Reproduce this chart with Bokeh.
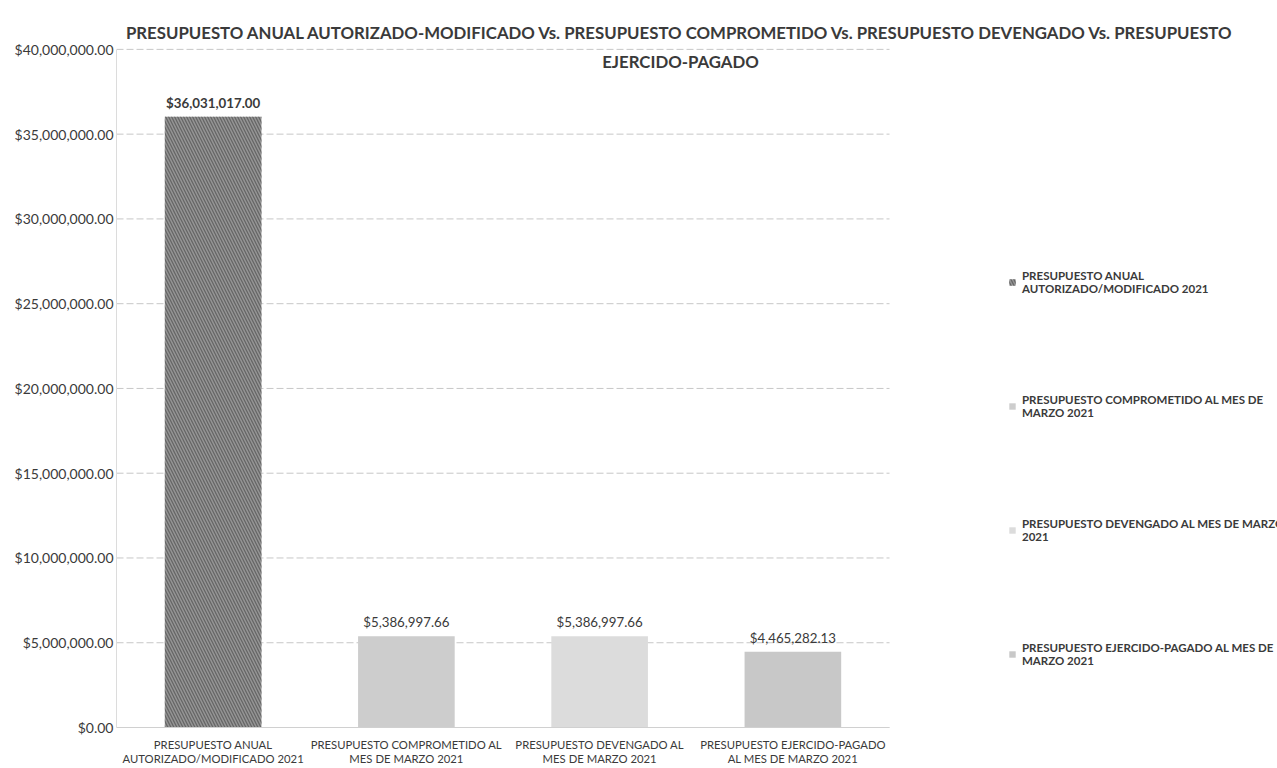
from bokeh.plotting import figure
from bokeh.models import (ColumnDataSource, Range1d, NumeralTickFormatter,
                          Label, Legend, LegendItem, FixedTicker)
from bokeh.core.properties import value
from bokeh.embed import file_html
from bokeh.resources import INLINE

# ---- data ----
categories = [
    "PRESUPUESTO ANUAL\nAUTORIZADO/MODIFICADO 2021",
    "PRESUPUESTO COMPROMETIDO AL\nMES DE MARZO 2021",
    "PRESUPUESTO DEVENGADO AL\nMES DE MARZO 2021",
    "PRESUPUESTO EJERCIDO-PAGADO\nAL MES DE MARZO 2021",
]
legend_labels = [
    "PRESUPUESTO ANUAL\nAUTORIZADO/MODIFICADO 2021",
    "PRESUPUESTO COMPROMETIDO AL MES DE\nMARZO 2021",
    "PRESUPUESTO DEVENGADO AL MES DE MARZO\n2021",
    "PRESUPUESTO EJERCIDO-PAGADO AL MES DE\nMARZO 2021",
]
values = [36031017.00, 5386997.66, 5386997.66, 4465282.13]
value_labels = ["$36,031,017.00", "$5,386,997.66", "$5,386,997.66", "$4,465,282.13"]
y_ticks = [0, 5000000, 10000000, 15000000, 20000000, 25000000, 30000000, 35000000, 40000000]
y_max = 40000000
title_text = ("PRESUPUESTO ANUAL AUTORIZADO-MODIFICADO Vs. PRESUPUESTO COMPROMETIDO Vs. "
              "PRESUPUESTO DEVENGADO Vs. PRESUPUESTO\nEJERCIDO-PAGADO")

# ---- styles / layout ----
bar_colors = ["#959595", "#cdcdcd", "#dcdcdc", "#c8c8c8"]
hatch_patterns = ["\\", " ", " ", " "]
label_styles = ["bold", "normal", "normal", "normal"]
FONT = "Lato"

W, H = 1277, 768
PLOT_L, PLOT_R = 116, 889            # pixel extent of the category area
FRAME_T, FRAME_B = 5, 729
GRID_TOP_PX = 49                     # pixel row of the top gridline
n = len(categories)
x_end = n * (W - PLOT_L) / (PLOT_R - PLOT_L)
y_end = y_max * (FRAME_B - FRAME_T) / (FRAME_B - GRID_TOP_PX)

xpos = [i + 0.5 for i in range(n)]

source = ColumnDataSource(dict(
    x=xpos, val=values, lab=value_labels, color=bar_colors,
    hatch=hatch_patterns, fstyle=label_styles,
))
grid_src = ColumnDataSource(dict(y=y_ticks, x0=[0] * len(y_ticks), x1=[n] * len(y_ticks)))

p = figure(
    x_range=Range1d(0, x_end),
    y_range=Range1d(0, y_end),
    width=W, height=H,
    output_backend="svg", toolbar_location=None,
    min_border_left=PLOT_L, min_border_right=0,
    min_border_top=FRAME_T, min_border_bottom=H - FRAME_B,
    background_fill_color="white", border_fill_color="white",
)
p.outline_line_color = None
p.xgrid.grid_line_color = None
p.ygrid.grid_line_color = None

# gridlines limited to the category area
p.segment(x0="x0", x1="x1", y0="y", y1="y", source=grid_src,
          line_color="#bdbdbd", line_dash="7 3", line_alpha=0.85, line_width=1)

bars = p.vbar(x="x", top="val", width=0.5, source=source,
              fill_color="color", line_color=None,
              hatch_pattern="hatch", hatch_color="#666666", hatch_scale=6, hatch_weight=1.3)

p.text(x="x", y="val", text="lab", source=source, y_offset=-6,
       text_align="center", text_baseline="bottom",
       text_font=value(FONT), text_font_size="13.3px", text_font_style="fstyle",
       text_color="#3a3a3a")

# axes
p.yaxis.ticker = FixedTicker(ticks=y_ticks)
p.yaxis.formatter = NumeralTickFormatter(format="$0,0.00")
p.yaxis.bounds = (0, y_max)
p.yaxis.axis_line_color = "#dcdcdc"
p.yaxis.major_tick_line_color = None
p.yaxis.minor_tick_line_color = None
p.yaxis.major_tick_out = 0
p.yaxis.major_label_text_font = FONT
p.yaxis.major_label_text_font_size = "14px"
p.yaxis.major_label_text_color = "#3a3a3a"
p.yaxis.major_label_standoff = 3

p.xaxis.ticker = FixedTicker(ticks=xpos)
p.xaxis.major_label_overrides = {x: c for x, c in zip(xpos, categories)}
p.xaxis.bounds = (0, n)
p.xaxis.axis_line_color = "#d0d0d0"
p.xaxis.major_tick_line_color = None
p.xaxis.minor_tick_line_color = None
p.xaxis.major_tick_out = 0
p.xaxis.major_label_text_font = FONT
p.xaxis.major_label_text_font_size = "11.3px"
p.xaxis.major_label_text_color = "#3a3a3a"
p.xaxis.major_label_text_line_height = 1.15
p.xaxis.major_label_standoff = 10

# title
title_center_px = 680
p.add_layout(Label(x=x_end * (title_center_px - PLOT_L) / (W - PLOT_L),
                   y=y_max * (FRAME_B - 22) / (FRAME_B - GRID_TOP_PX),
                   text=title_text, text_align="center",
                   text_baseline="top", text_font=FONT, text_font_size="16.8px",
                   text_font_style="bold", text_color="#3a3a3a", text_line_height=1.36))

# legend
items = [LegendItem(label=legend_labels[i], renderers=[bars], index=i) for i in range(n)]
legend = Legend(items=items, location=(892, 60), orientation="vertical",
                glyph_width=8, glyph_height=8, label_standoff=6, spacing=98,
                padding=0, margin=0, border_line_alpha=0, background_fill_alpha=0,
                label_text_font=FONT, label_text_font_size="11.5px",
                label_text_font_style="bold", label_text_color="#3a3a3a",
                label_text_line_height=1.33, label_text_align="center")
p.add_layout(legend, "center")

open("out.html", "w").write(file_html(p, INLINE))
